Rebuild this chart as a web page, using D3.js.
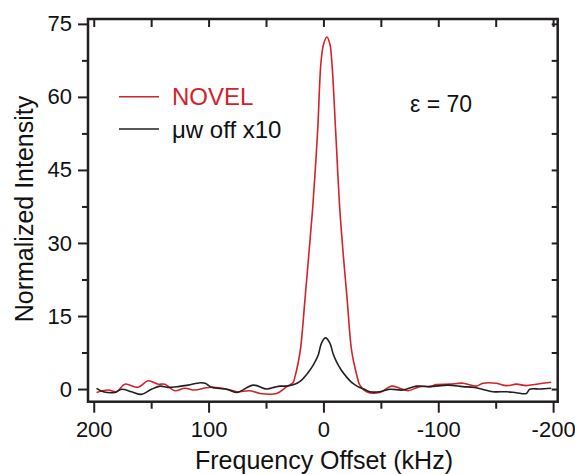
<!DOCTYPE html>
<html><head><meta charset="utf-8">
<script src="https://cdn.jsdelivr.net/npm/d3@7"></script>
<style>body{margin:0;background:#fff}svg{display:block}</style>
</head><body>
<svg id="c" width="575" height="474"></svg>
<script>
// ---- data ----
const xMajorTicks = [200, 100, 0, -100, -200];
const xMinorTicks = [150, 50, -50, -150];
const yMajorTicks = [0, 15, 30, 45, 60, 75];
const yMinorTicks = [7.5, 22.5, 37.5, 52.5, 67.5];

const seriesNames = ["NOVEL", "\u03bcw off x10"];

const redOffset = [197.6,187.4,180.2,172.9,161.3,152.6,143.9,138.1,129.4,120.7,112.0,101.9,95.8,81.3,75.5,63.9,55.2,40.7,32.0,26.5,24.8,21.9,19.8,16.1,12.6,9.1,5.0,2.2,0,-3.0,-5.5,-7.4,-10.6,-14.3,-17.5,-20.7,-24.5,-28.9,-31.7,-37.6,-49.1,-59.3,-66.5,-73.7,-83.9,-92.6,-98.4,-110,-121.6,-133.2,-139.0,-150.6,-159.3,-168,-176.7,-185.4,-198.4];
const redIntensity = [-0.7,-0.2,-0.55,1.0,0.35,1.7,1.0,1.0,-0.35,0.15,-0.2,0.27,0.35,-0.2,-0.55,-0.35,-0.9,-0.9,0.5,1.3,2.5,5.5,8.5,18.3,28,38,53.2,66.9,70.7,72.3,71.0,66.9,53.2,36.8,27,18.3,8.0,3.0,0.8,-0.55,-0.7,0.6,0.15,-0.35,0.5,0.5,0.9,1.0,1.2,0.6,1.2,1.2,0.7,1.0,0.7,1.0,1.4];

const blackOffset = [197.6,191.7,181.6,175.8,167.1,158.4,149.7,142.4,135.2,126.5,117.8,107.4,103.0,97.2,84.2,75.5,61.0,49.4,42.2,37.8,33.5,26.5,23.0,19.0,14.6,11.7,8.9,4.5,1.6,-1.9,-5.7,-8.5,-12.0,-15.8,-20.4,-24.8,-30,-36,-40.4,-49.1,-57.8,-69.4,-81.0,-92.6,-108.5,-121.3,-131.7,-147.7,-159.3,-168,-176.7,-179.6,-188.3,-198.4];
const blackIntensity = [0.15,-0.55,-0.7,-0.05,-0.55,-1.1,-0.05,0.6,0.35,0.5,0.8,1.3,1.2,0.35,-0.05,-0.7,0.8,0.0,0.4,0.6,0.6,0.9,1.2,1.85,3.0,3.9,4.9,7.0,9.5,10.5,9.4,7.2,5.3,3.8,2.4,1.3,0.5,-0.1,-0.55,-0.55,-0.05,-0.2,0.6,0.5,0.8,0.5,0.3,-0.55,-0.55,-0.75,-0.9,-0.05,0,0.15];

// ---- layout ----
const L = 88, T = 19, R = 557.7, B = 401.7;
const FONT = "'Liberation Sans', Arial, Helvetica, sans-serif";
const INK = "#231f20", RED = "#d2232a";

const svg = d3.select("#c");
const x = d3.scaleLinear().domain([205, -204]).range([L, R]);
const y = d3.scaleLinear().domain([-2.6, 76]).range([B, T]);

function styleAxis(g) {
  g.select(".domain").remove();
  g.selectAll(".tick line").attr("stroke", INK).attr("stroke-width", 2);
  g.selectAll(".tick text").attr("fill", "#111").attr("font-family", FONT);
}

// left axis
svg.append("g").attr("transform", `translate(${L},0)`)
  .call(d3.axisLeft(y).tickValues(yMajorTicks).tickSize(10).tickPadding(6).tickFormat(d => String(d)))
  .call(styleAxis).call(g => g.selectAll("text").attr("font-size", 22));
svg.append("g").attr("transform", `translate(${L},0)`)
  .call(d3.axisLeft(y).tickValues(yMinorTicks).tickSize(6).tickFormat(""))
  .call(styleAxis);
// right axis (inward)
svg.append("g").attr("transform", `translate(${R},0)`)
  .call(d3.axisLeft(y).tickValues(yMajorTicks.concat(yMinorTicks)).tickSize(6).tickFormat(""))
  .call(styleAxis);
// bottom axis
svg.append("g").attr("transform", `translate(0,${B})`)
  .call(d3.axisBottom(x).tickValues(xMajorTicks).tickSize(11).tickPadding(9).tickFormat(d => String(d)))
  .call(styleAxis).call(g => g.selectAll("text").attr("font-size", 22));
svg.append("g").attr("transform", `translate(0,${B})`)
  .call(d3.axisBottom(x).tickValues(xMinorTicks).tickSize(7).tickFormat(""))
  .call(styleAxis);
// top axis (inward)
svg.append("g").attr("transform", `translate(0,${T})`)
  .call(d3.axisBottom(x).tickValues(xMajorTicks.concat(xMinorTicks)).tickSize(8).tickFormat(""))
  .call(styleAxis);

// frame
svg.append("rect").attr("x", L).attr("y", T).attr("width", R - L).attr("height", B - T)
  .attr("fill", "none").attr("stroke", INK).attr("stroke-width", 2.5);

// lines
const line = d3.line().x(d => x(d[0])).y(d => y(d[1])).curve(d3.curveCatmullRom.alpha(0.5));
const redData = d3.zip(redOffset, redIntensity).sort((a, b) => b[0] - a[0]);
const blackData = d3.zip(blackOffset, blackIntensity).sort((a, b) => b[0] - a[0]);
svg.append("path").datum(redData).attr("d", line).attr("fill", "none")
  .attr("stroke", RED).attr("stroke-width", 1.6);
svg.append("path").datum(blackData).attr("d", line).attr("fill", "none")
  .attr("stroke", INK).attr("stroke-width", 1.6);

// legend
const legend = [{name: seriesNames[0], color: RED, y: 96.7}, {name: seriesNames[1], color: INK, y: 129}];
legend.forEach((d, i) => {
  svg.append("line").attr("x1", 119).attr("x2", 159).attr("y1", d.y).attr("y2", d.y)
    .attr("stroke", d.color).attr("stroke-width", 1.6);
  svg.append("text").attr("x", 172).attr("y", d.y + 8.5).attr("font-family", FONT)
    .attr("font-size", 24).attr("fill", i === 0 ? RED : "#111").text(d.name);
});

// annotation
svg.append("text").attr("x", 410).attr("y", 111.5).attr("font-family", FONT)
  .attr("font-size", 23).attr("fill", "#111").text("\u03b5 = 70");

// axis titles
svg.append("text").attr("x", 324).attr("y", 469).attr("text-anchor", "middle")
  .attr("font-family", FONT).attr("font-size", 25).attr("fill", "#111").text("Frequency Offset (kHz)");
svg.append("text").attr("transform", "translate(33,209) rotate(-90)").attr("text-anchor", "middle")
  .attr("font-family", FONT).attr("font-size", 25).attr("fill", "#111").text("Normalized Intensity");
</script>
</body></html>
